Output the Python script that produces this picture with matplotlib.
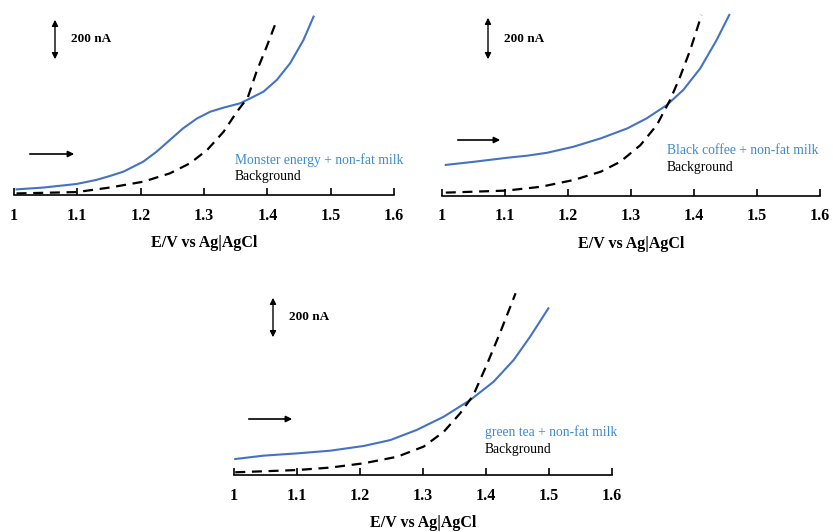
import matplotlib.pyplot as plt
from matplotlib.patches import FancyArrowPatch

# potentials (V) and currents (nA, measured from the axis line)
me_x = [1.004, 1.046, 1.099, 1.130, 1.151, 1.173, 1.204, 1.225, 1.246, 1.267,
        1.289, 1.310, 1.331, 1.357, 1.373, 1.394, 1.415, 1.436, 1.457, 1.473]
me_y = [25, 33, 49, 67, 84, 104, 148, 192, 244, 296, 340, 370, 388, 407, 429,
        459, 511, 585, 688, 792]
me_bg_x = [1.004, 1.099, 1.151, 1.204, 1.246, 1.278, 1.305, 1.331, 1.352, 1.369,
           1.383, 1.399, 1.415]
me_bg_y = [7, 13, 33, 59, 96, 141, 200, 281, 370, 432, 548, 659, 777]

bc_x = [1.006, 1.051, 1.104, 1.135, 1.167, 1.209, 1.252, 1.294, 1.325, 1.357,
        1.383, 1.410, 1.436, 1.456]
bc_y = [138, 152, 170, 179, 192, 219, 256, 300, 345, 404, 471, 567, 693, 804]
bc_bg_x = [1.006, 1.102, 1.157, 1.209, 1.252, 1.283, 1.315, 1.341, 1.362, 1.378,
           1.394, 1.412]
bc_bg_y = [15, 24, 41, 71, 108, 152, 226, 315, 426, 530, 648, 804]

gt_x = [1.002, 1.047, 1.100, 1.153, 1.206, 1.248, 1.290, 1.333, 1.375, 1.412,
        1.444, 1.470, 1.499]
gt_y = [71, 86, 96, 108, 129, 155, 200, 259, 333, 414, 511, 614, 740]
gt_bg_x = [1.002, 1.100, 1.153, 1.206, 1.259, 1.301, 1.333, 1.359, 1.380, 1.401,
           1.423, 1.447]
gt_bg_y = [12, 22, 33, 52, 81, 126, 192, 274, 355, 488, 636, 807]

ticks = [1, 1.1, 1.2, 1.3, 1.4, 1.5, 1.6]
tick_labels = ['1', '1.1', '1.2', '1.3', '1.4', '1.5', '1.6']

W, H = 833, 532
blue = '#4472C4'
label_blue = '#3D8BD0'
serif = 'Liberation Serif'

fig = plt.figure(figsize=(W / 100, H / 100), dpi=100)


def fx(px):
    return px / W


def fy(py):
    return 1 - py / H


def panel(left, right, base, top, xs, ys, bx, by, name, bar, arrow, legend):
    ax = fig.add_axes([fx(left), fy(base), fx(right - left), (base - top) / H])
    ax.plot(xs, ys, color=blue, lw=1.5)
    ax.plot(bx, by, color='black', lw=1.6, ls=(0, (4.5, 3)))
    ax.set_xlim(1, 1.6)
    ax.set_ylim(0, (base - top) * 4.44)
    for s in ['left', 'right', 'top']:
        ax.spines[s].set_visible(False)
    ax.spines['bottom'].set_linewidth(1.2)
    ax.set_yticks([])
    ax.set_xticks(ticks)
    ax.set_xticklabels(tick_labels, fontfamily=serif, fontweight='bold', fontsize=11.5)
    ax.tick_params(axis='x', direction='in', length=5, width=1.2, pad=9)
    ax.set_xlabel('E/V vs Ag|AgCl', fontfamily=serif, fontweight='bold',
                  fontsize=11.5, labelpad=8)
    ax.patch.set_alpha(0)

    # 200 nA scale bar
    sx, sy0, sy1 = bar
    fig.patches.append(FancyArrowPatch(
        (fx(sx), fy(sy1)), (fx(sx), fy(sy0)), transform=fig.transFigure,
        arrowstyle='<|-|>', mutation_scale=9, color='black', lw=1))
    fig.text(fx(sx + 16), fy((sy0 + sy1) / 2), '200 nA', fontfamily=serif,
             fontweight='bold', fontsize=9.5, va='center', ha='left')

    # scan direction
    ax0, ax1, ay = arrow
    fig.patches.append(FancyArrowPatch(
        (fx(ax0), fy(ay)), (fx(ax1), fy(ay)), transform=fig.transFigure,
        arrowstyle='-|>', mutation_scale=9, color='black', lw=1.2))

    lx, ly = legend
    fig.text(fx(lx), fy(ly), name, color=label_blue, fontfamily=serif,
             fontsize=9.8, va='center', ha='left')
    fig.text(fx(lx), fy(ly + 17), 'Background', color='black', fontfamily=serif,
             fontsize=9.8, va='center', ha='left')


panel(14, 394, 195, 10, me_x, me_y, me_bg_x, me_bg_y,
      'Monster energy + non-fat milk', (55, 17, 62), (27, 77, 154), (235, 160))
panel(442, 820, 196, 10, bc_x, bc_y, bc_bg_x, bc_bg_y,
      'Black coffee + non-fat milk', (488, 15, 62), (455, 503, 140), (667, 150))
panel(234, 612, 475, 280, gt_x, gt_y, gt_bg_x, gt_bg_y,
      'green tea + non-fat milk', (273, 295, 340), (246, 295, 419), (485, 432))

fig.savefig('out.png', dpi=100)
